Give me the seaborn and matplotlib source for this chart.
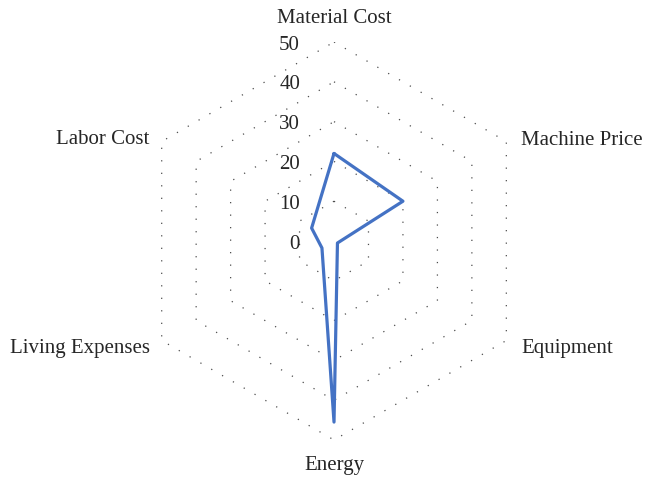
import numpy as np
import pandas as pd
import matplotlib
matplotlib.use("Agg")
import matplotlib.pyplot as plt
import seaborn as sns

categories = ["Material Cost", "Machine Price", "Equipment", "Energy",
              "Living Expenses", "Labor Cost"]
values = [22, 20, 1, 45.5, 3.5, 6.5]
ring_levels = [10, 20, 30, 40, 50]
tick_labels = ["0", "10", "20", "30", "40", "50"]

sns.set_theme(style="white")
plt.rcParams["font.family"] = ["Liberation Serif", "DejaVu Serif"]

fig = plt.figure(figsize=(6.47, 4.79), dpi=100)
ax = fig.add_axes([0.2087, 0.0814, 0.6151, 0.8309], projection="polar")
ax.set_theta_offset(np.pi / 2)
ax.set_theta_direction(-1)
ax.set_ylim(0, 50)
ax.grid(False)
ax.spines["polar"].set_visible(False)
ax.set_xticks([])
ax.set_yticks([])
ax.set_facecolor("none")

n = len(categories)
angles = np.arange(n) * 2 * np.pi / n

# dotted hexagonal rings
for lvl in ring_levels:
    th = np.append(angles, angles[0])
    ax.plot(th, [lvl] * (n + 1), color="#4d4d4d", lw=0.9,
            linestyle=(0, (1, 9)), zorder=1)

# data polygon (closed back to the first category)
df = pd.DataFrame({"theta": np.append(angles, 2 * np.pi),
                   "value": values + [values[0]]})
sns.lineplot(data=df, x="theta", y="value", sort=False, estimator=None,
             ax=ax, color="#4472C4", lw=2.3, zorder=3)
ax.set_xlabel("")
ax.set_ylabel("")
ax.set_ylim(0, 50)

# radial value labels along the top axis
for i, lab in enumerate(tick_labels):
    ax.annotate(lab, xy=(0, i * 10), xytext=(-34, -3),
                textcoords="offset pixels", ha="right", va="center",
                fontsize=15, color="#262626")

# category labels
offsets = [(0, 24, "center"), (15, 1, "left"), (15, -8, "left"),
           (0, -26, "center"), (-12, -8, "right"), (-12, 2, "right")]
for ang, cat, (dx, dy, ha) in zip(angles, categories, offsets):
    ax.annotate(cat, xy=(ang, 50), xytext=(dx, dy),
                textcoords="offset pixels", ha=ha, va="center",
                fontsize=15, color="#262626", annotation_clip=False)

fig.savefig("out.png", dpi=100, facecolor="white")
